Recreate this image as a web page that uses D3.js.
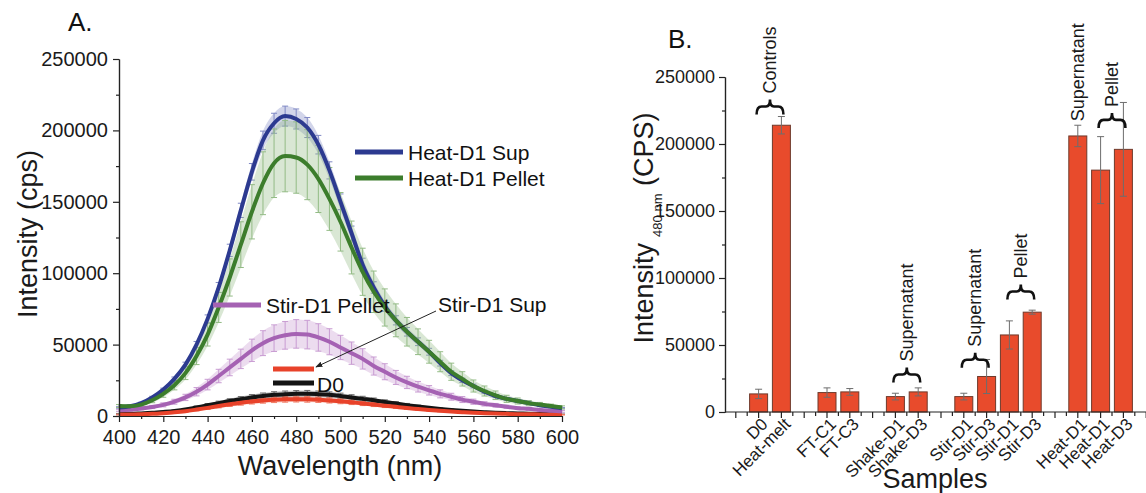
<!DOCTYPE html>
<html lang="en">
<head>
<meta charset="UTF-8">
<title>Emission spectra and intensity at 480 nm</title>
<script src="https://d3js.org/d3.v7.min.js"></script>
<style>
  body { margin: 0; background: #fff; }
  svg { display: block; font-family: "Liberation Sans", Arial, sans-serif; }
</style>
</head>
<body>
<div id="chart"></div>
<script>
// ---------- Panel A: emission spectra (every 5 nm) ----------
const wavelengths = [400, 405, 410, 415, 420, 425, 430, 435, 440, 445, 450, 455, 460, 465, 470, 475, 480, 485, 490, 495,
  500, 505, 510, 515, 520, 525, 530, 535, 540, 545, 550, 555, 560, 565, 570, 575, 580, 585, 590, 595, 600];

const heatSupMean = [6000, 6800, 9000, 13000, 18500, 26000, 36000, 50000, 68000, 90000, 116000, 144000, 171000, 193000, 205000, 210000, 208000, 202000, 190000, 172000,
  150000, 128000, 106000, 90000, 77000, 67000, 59000, 52000, 45000, 37000, 30000, 25000, 21000, 17000, 14000, 12000, 10500, 9000, 7500, 6500, 5500];
const heatSupSd = [500, 500, 600, 800, 1000, 1300, 1700, 2200, 2800, 3500, 4300, 5000, 5800, 6500, 7000, 7000, 7000, 7000, 6500, 6000,
  5500, 5000, 4500, 4000, 3600, 3200, 3000, 2700, 2400, 2000, 1700, 1500, 1300, 1100, 900, 800, 700, 600, 500, 500, 400];

const heatPelletMean = [7000, 6800, 8000, 11000, 15500, 21500, 30000, 42000, 57000, 76000, 97000, 120000, 143000, 163000, 177000, 182000, 181000, 176000, 166000, 152000,
  136000, 118000, 101000, 87000, 76000, 67000, 59000, 52000, 45000, 38000, 31000, 26000, 21000, 17500, 14500, 12000, 10500, 9000, 8000, 7000, 6000];
const heatPelletSd = [1000, 1000, 1200, 1700, 2400, 3200, 4500, 6000, 8000, 10500, 13000, 16000, 19000, 22000, 24000, 25000, 25000, 24500, 23500, 22000,
  20500, 18500, 16500, 14500, 13000, 11500, 10000, 9000, 8000, 7000, 6000, 5000, 4200, 3500, 3000, 2500, 2100, 1800, 1500, 1300, 1100];

const stirPelletMean = [4000, 4400, 5200, 6300, 7800, 10000, 13000, 17000, 22000, 28000, 34000, 40000, 46000, 51000, 54500, 56500, 57500, 57000, 55000, 52000,
  48000, 44000, 40000, 35000, 31000, 27000, 23500, 20500, 18000, 15500, 13500, 11500, 10000, 8500, 7500, 6500, 5500, 5000, 4200, 3700, 3200];
const stirPelletSd = [700, 800, 900, 1100, 1400, 1700, 2200, 2900, 3700, 4700, 5800, 6800, 7800, 8700, 9300, 9700, 10000, 10000, 9600, 9100,
  8500, 7800, 7100, 6300, 5600, 4900, 4300, 3700, 3300, 2800, 2400, 2100, 1800, 1500, 1300, 1100, 1000, 900, 800, 700, 600];

const stirSupMean = [1000, 1000, 1200, 1500, 2000, 2600, 3400, 4500, 5700, 7000, 8200, 9300, 10200, 10900, 11400, 11700, 11800, 11700, 11400, 10900,
  10300, 9600, 8800, 8000, 7200, 6400, 5600, 4900, 4200, 3600, 3100, 2700, 2300, 2000, 1700, 1500, 1300, 1200, 1100, 1000, 900];
const stirSupSd = [300, 300, 350, 400, 500, 600, 700, 900, 1100, 1300, 1500, 1700, 1800, 1900, 2000, 2000, 2000, 2000, 1900, 1800,
  1700, 1600, 1500, 1400, 1300, 1100, 1000, 900, 800, 700, 600, 500, 450, 400, 350, 300, 300, 250, 250, 200, 200];

const d0Mean = [1500, 1500, 1800, 2200, 2800, 3500, 4500, 6000, 7500, 9000, 10500, 11800, 13000, 14000, 14800, 15200, 15500, 15600, 15300, 14800,
  14000, 13000, 12000, 11000, 9800, 8700, 7600, 6600, 5700, 4900, 4200, 3600, 3100, 2700, 2300, 2000, 1800, 1600, 1400, 1300, 1200];
const d0Sd = [300, 300, 350, 400, 500, 600, 800, 1000, 1200, 1400, 1600, 1800, 2000, 2100, 2200, 2300, 2300, 2300, 2200, 2100,
  2000, 1900, 1800, 1600, 1500, 1300, 1200, 1000, 900, 800, 700, 600, 500, 450, 400, 350, 300, 300, 250, 250, 200];

const spectraNames = ["D0", "Stir-D1 Sup", "Stir-D1 Pellet", "Heat-D1 Sup", "Heat-D1 Pellet"];

// ---------- Panel B: intensity at 480 nm ----------
const samples = ["D0", "Heat-melt", "FT-C1", "FT-C3", "Shake-D1", "Shake-D3", "Stir-D1", "Stir-D3", "Stir-D1", "Stir-D3", "Heat-D1", "Heat-D1", "Heat-D3"];
const sampleGroup = [0, 0, 1, 1, 2, 2, 3, 3, 3, 3, 4, 4, 4];
const intensity480 = [13500, 214000, 14500, 15000, 11500, 15000, 11500, 26500, 57500, 74500, 206000, 180500, 196000];
const intensity480Sd = [3500, 6500, 3500, 2500, 2500, 3000, 2500, 12700, 10500, 1500, 8000, 25000, 35000];

// brace annotations: label, first and last sample index, level of the brace
const braceLabels = ["Controls", "Supernatant", "Supernatant", "Pellet", "Pellet"];
const braceFrom = [0, 4, 6, 8, 11];
const braceTo = [1, 5, 7, 9, 12];
const braceLevel = [222000, 22000, 33000, 84000, 212000];

const W = 1146, H = 493;
const FONT = "Liberation Sans, Arial, sans-serif";
const svg = d3.select("#chart").append("svg")
  .attr("width", W).attr("height", H);
svg.append("rect").attr("width", W).attr("height", H).attr("fill", "#fff");

function styleAxis(g, size) {
  g.attr("font-size", size).attr("font-family", FONT);
  g.selectAll("text").attr("fill", "#1a1a1a");
  g.selectAll("path, line").attr("stroke", "#222").attr("stroke-width", 1.2);
}

// ================= Panel A =================
const xA = d3.scaleLinear().domain([400, 600]).range([119, 562]);
const yA = d3.scaleLinear().domain([0, 250000]).range([416, 59]);

const series = [
  { name: spectraNames[0], mean: d0Mean, sd: d0Sd, color: "#141414", bar: "#6a6a6a" },
  { name: spectraNames[1], mean: stirSupMean, sd: stirSupSd, color: "#e8422a", bar: "#f07a62" },
  { name: spectraNames[2], mean: stirPelletMean, sd: stirPelletSd, color: "#a562b3", bar: "#c89bd2" },
  { name: spectraNames[3], mean: heatSupMean, sd: heatSupSd, color: "#2c3a90", bar: "#7f88c4" },
  { name: spectraNames[4], mean: heatPelletMean, sd: heatPelletSd, color: "#3c7d2c", bar: "#93bb85" }
];

const gA = svg.append("g");

// error bands and bars
series.forEach(s => {
  const pts = wavelengths.map((w, i) => ({ w, m: s.mean[i], sd: s.sd[i] }));
  gA.append("path")
    .datum(pts)
    .attr("fill", s.bar)
    .attr("opacity", 0.35)
    .attr("d", d3.area().curve(d3.curveMonotoneX)
      .x(d => xA(d.w)).y0(d => yA(d.m - d.sd)).y1(d => yA(d.m + d.sd)));
  const eb = gA.append("g").attr("stroke", s.bar).attr("stroke-width", 1);
  eb.selectAll("line.v").data(pts).join("line")
    .attr("x1", d => xA(d.w)).attr("x2", d => xA(d.w))
    .attr("y1", d => yA(d.m - d.sd)).attr("y2", d => yA(d.m + d.sd));
  eb.selectAll("line.t").data(pts).join("line")
    .attr("x1", d => xA(d.w) - 3).attr("x2", d => xA(d.w) + 3)
    .attr("y1", d => yA(d.m + d.sd)).attr("y2", d => yA(d.m + d.sd));
  eb.selectAll("line.b").data(pts).join("line")
    .attr("x1", d => xA(d.w) - 3).attr("x2", d => xA(d.w) + 3)
    .attr("y1", d => yA(d.m - d.sd)).attr("y2", d => yA(d.m - d.sd));
});

// mean lines
const lineA = d3.line().curve(d3.curveMonotoneX).x(d => xA(d[0])).y(d => yA(d[1]));
series.forEach(s => {
  gA.append("path")
    .datum(wavelengths.map((w, i) => [w, s.mean[i]]))
    .attr("fill", "none")
    .attr("stroke", s.color)
    .attr("stroke-width", 4)
    .attr("d", lineA);
});

// axes A
const axA = svg.append("g");
axA.append("g").attr("transform", "translate(0,416)")
  .call(d3.axisBottom(xA).tickValues(d3.range(410, 600, 20)).tickSize(3).tickFormat("").tickSizeOuter(0))
  .call(g => styleAxis(g, 20));
axA.append("g").attr("transform", "translate(0,416)")
  .call(d3.axisBottom(xA).tickValues(d3.range(400, 601, 20)).tickSize(6).tickPadding(8).tickSizeOuter(0))
  .call(g => styleAxis(g, 20));
axA.append("g").attr("transform", "translate(119,0)")
  .call(d3.axisLeft(yA).tickValues(d3.range(25000, 250000, 50000)).tickSize(3).tickFormat("").tickSizeOuter(0))
  .call(g => styleAxis(g, 20));
axA.append("g").attr("transform", "translate(119,0)")
  .call(d3.axisLeft(yA).tickValues(d3.range(0, 250001, 50000)).tickSize(6).tickPadding(5).tickFormat(d3.format("d")).tickSizeOuter(0))
  .call(g => styleAxis(g, 20));

svg.append("text").attr("x", 340).attr("y", 475).attr("text-anchor", "middle")
  .attr("font-size", 27).attr("fill", "#1a1a1a").text("Wavelength (nm)");
svg.append("text").attr("transform", "translate(37,234) rotate(-90)").attr("text-anchor", "middle")
  .attr("font-size", 27).attr("fill", "#1a1a1a").text("Intensity (cps)");
svg.append("text").attr("x", 68).attr("y", 31).attr("font-size", 26).attr("fill", "#111").text("A.");

// legend A
const legA = [
  { s: series[3], x: 355, y: 152 },
  { s: series[4], x: 355, y: 178 },
  { s: series[2], x: 213, y: 305 }
];
legA.forEach(l => {
  svg.append("line").attr("x1", l.x).attr("x2", l.x + 48).attr("y1", l.y).attr("y2", l.y)
    .attr("stroke", l.s.color).attr("stroke-width", 5);
  svg.append("text").attr("x", l.x + 53).attr("y", l.y).attr("dy", "0.36em")
    .attr("font-size", 21).attr("fill", "#111").text(l.s.name);
});
svg.append("line").attr("x1", 273).attr("x2", 314).attr("y1", 369).attr("y2", 369)
  .attr("stroke", series[1].color).attr("stroke-width", 5);
svg.append("line").attr("x1", 273).attr("x2", 314).attr("y1", 383).attr("y2", 383)
  .attr("stroke", series[0].color).attr("stroke-width", 5);
svg.append("text").attr("x", 317).attr("y", 384).attr("dy", "0.36em")
  .attr("font-size", 21).attr("fill", "#111").text(series[0].name);
svg.append("text").attr("x", 438).attr("y", 304).attr("dy", "0.36em")
  .attr("font-size", 21).attr("fill", "#111").text(series[1].name);

svg.append("defs").append("marker")
  .attr("id", "arrow").attr("viewBox", "0 0 10 10").attr("refX", 9).attr("refY", 5)
  .attr("markerWidth", 7).attr("markerHeight", 7).attr("orient", "auto")
  .append("path").attr("d", "M0,1 L10,5 L0,9 z").attr("fill", "#222");
svg.append("line").attr("x1", 436).attr("y1", 311).attr("x2", 316).attr("y2", 367)
  .attr("stroke", "#222").attr("stroke-width", 1).attr("marker-end", "url(#arrow)");

// ================= Panel B =================
const slotOf = i => i + sampleGroup[i] + 1;
const xB = d3.scaleLinear().domain([-0.5, 18.5]).range([724.4, 1157.6]);
const yB = d3.scaleLinear().domain([0, 250000]).range([412, 77]);
const barW = 18;

const gB = svg.append("g");
gB.selectAll("rect.bar").data(samples).join("rect")
  .attr("class", "bar")
  .attr("x", (d, i) => xB(slotOf(i)) - barW / 2)
  .attr("width", barW)
  .attr("y", (d, i) => yB(intensity480[i]))
  .attr("height", (d, i) => yB(0) - yB(intensity480[i]))
  .attr("fill", "#e84b2c")
  .attr("stroke", "#6e3a2c")
  .attr("stroke-width", 1);

const ebB = gB.append("g").attr("stroke", "#6d6d6d").attr("stroke-width", 1);
samples.forEach((d, i) => {
  const cx = xB(slotOf(i));
  const hi = yB(intensity480[i] + intensity480Sd[i]);
  const lo = yB(intensity480[i] - intensity480Sd[i]);
  ebB.append("line").attr("x1", cx).attr("x2", cx).attr("y1", lo).attr("y2", hi);
  ebB.append("line").attr("x1", cx - 3.5).attr("x2", cx + 3.5).attr("y1", hi).attr("y2", hi);
  ebB.append("line").attr("x1", cx - 3.5).attr("x2", cx + 3.5).attr("y1", lo).attr("y2", lo);
});

// axes B
const axB = svg.append("g");
axB.append("g").attr("transform", "translate(725,0)")
  .call(d3.axisLeft(yB).tickValues(d3.range(25000, 250000, 50000)).tickSize(3).tickFormat("").tickSizeOuter(0))
  .call(g => styleAxis(g, 18));
axB.append("g").attr("transform", "translate(725,0)")
  .call(d3.axisLeft(yB).tickValues(d3.range(0, 250001, 50000)).tickSize(6).tickPadding(4).tickFormat(d3.format("d")).tickSizeOuter(0))
  .call(g => styleAxis(g, 18));
const xBaxis = axB.append("g").attr("transform", "translate(0,412)");
xBaxis.append("line").attr("x1", 725).attr("x2", W).attr("y1", 0).attr("y2", 0);
xBaxis.selectAll("line.tk").data(d3.range(0, 18.6, 0.5)).join("line")
  .attr("class", "tk")
  .attr("x1", d => xB(d)).attr("x2", d => xB(d))
  .attr("y1", 0).attr("y2", d => (d % 1 === 0 ? 6 : 4));
styleAxis(xBaxis, 18);

// rotated sample names
svg.append("g").selectAll("text").data(samples).join("text")
  .attr("transform", (d, i) => `translate(${xB(slotOf(i)) + 6},${421}) rotate(-45)`)
  .attr("text-anchor", "end")
  .attr("dy", "0.35em")
  .attr("font-size", 17)
  .attr("fill", "#1a1a1a")
  .text(d => d);

svg.append("text").attr("x", 935).attr("y", 488).attr("text-anchor", "middle")
  .attr("font-size", 27).attr("fill", "#1a1a1a").text("Samples");

const yLabB = svg.append("text").attr("transform", "translate(653,228) rotate(-90)")
  .attr("text-anchor", "middle").attr("font-size", 27).attr("fill", "#1a1a1a");
yLabB.append("tspan").text("Intensity");
yLabB.append("tspan").attr("dy", 9).attr("dx", 6).attr("font-size", 13).text("480 nm");
yLabB.append("tspan").attr("dy", -9).text(" (CPS)");

svg.append("text").attr("x", 668).attr("y", 48).attr("font-size", 26).attr("fill", "#111").text("B.");

// braces and group labels
function bracePath(x0, x1, yb) {
  const xm = (x0 + x1) / 2, ym = yb - 8, yt = yb - 15;
  return `M${x0},${yb} Q${x0},${ym} ${x0 + 5},${ym} L${xm - 4},${ym} Q${xm},${ym} ${xm},${yt} ` +
    `Q${xm},${ym} ${xm + 4},${ym} L${x1 - 5},${ym} Q${x1},${ym} ${x1},${yb}`;
}
const gAnn = svg.append("g");
braceLabels.forEach((lab, k) => {
  const x0 = xB(slotOf(braceFrom[k])) - 2;
  const x1 = xB(slotOf(braceTo[k])) + 2;
  const yb = yB(braceLevel[k]);
  gAnn.append("path").attr("d", bracePath(x0, x1, yb))
    .attr("fill", "none").attr("stroke", "#111").attr("stroke-width", 2.6);
  gAnn.append("text")
    .attr("transform", `translate(${(x0 + x1) / 2 + 6},${yb - 21}) rotate(-90)`)
    .attr("font-size", 18).attr("fill", "#1a1a1a").text(lab);
});
// Heat-D1 supernatant label sits right above its bar
gAnn.append("text")
  .attr("transform", `translate(${xB(slotOf(10)) + 6},${yB(intensity480[10] + intensity480Sd[10]) - 4}) rotate(-90)`)
  .attr("font-size", 18).attr("fill", "#1a1a1a").text("Supernatant");
</script>
</body>
</html>
